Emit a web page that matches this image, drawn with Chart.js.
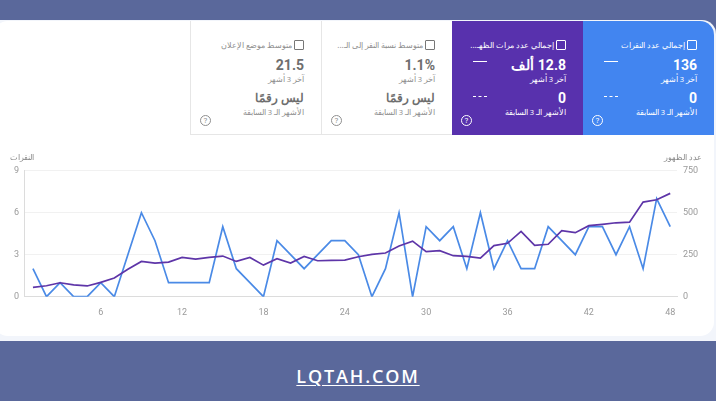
<!DOCTYPE html>
<html lang="ar"><head><meta charset="utf-8">
<script src="https://cdn.jsdelivr.net/npm/chart.js@4"></script>
<style>
html,body{margin:0;padding:0;width:716px;height:401px;overflow:hidden;background:#5a689b;font-family:Roboto,"Noto Sans",sans-serif}
#page{position:absolute;left:0;top:0;width:716px;height:401px;background:#5a689b;filter:blur(0.35px)}
#under{position:absolute;left:0;top:20px;width:716px;height:321px;background:#f2f5fb;border-top-right-radius:14px}
#card{position:absolute;left:-6px;top:21px;width:720px;height:315px;background:#fff;border-radius:14px}
#wrap{position:absolute;left:0;top:150px;width:716px;height:180px}
.p{position:absolute;top:21px;height:114px;box-sizing:border-box;direction:rtl}
.p>*{position:absolute;right:17px;white-space:nowrap}
.box{width:8px;height:8px;border:1px solid #777;border-radius:1px;top:19px;right:17px}
.t{font-size:8px;top:17.5px;right:29px;font-family:"Noto Sans",sans-serif}
.v{font-size:14px;font-weight:700;top:35px;line-height:18px}
.s{font-size:7.5px;top:52.5px;line-height:10px;font-family:"Noto Sans",sans-serif}
.v2{font-size:11.5px;font-weight:700;top:67.5px;line-height:18px;font-family:"Noto Sans",sans-serif}
.v2.n{font-size:14px;font-family:Roboto,sans-serif}
.s2{font-size:7.5px;top:85.5px;line-height:10px;font-family:"Noto Sans",sans-serif}
.g{color:#8f8f8f}.g .v,.g .v2{color:#6e6e6e}
.w{color:#fff}
.q{width:9px;height:9px;border:1px solid currentColor;border-radius:50%;top:94px;font-size:8px;line-height:9px;text-align:center;direction:ltr}
.d1{right:auto;width:14px;height:0;border-top:1px solid #fff;top:40px}
.d2{right:auto;width:14px;height:0;border-top:1px dashed #fff;top:75px}
#foot{position:absolute;left:0;top:365px;width:716px;text-align:center;color:#fff;font:600 18px "Open Sans",sans-serif;letter-spacing:1.85px;text-decoration:underline;text-underline-offset:2px;line-height:22px}
</style></head><body>
<div id="page">
<div id="under"></div>
<div id="card"></div>
<div class="p g" style="left:190px;width:132px;border:1px solid #e6e6e6;border-top:0">
 <div class="box"></div><div class="t">متوسط موضع الإعلان</div><div class="v">21.5</div><div class="s">آخر 3 أشهر</div><div class="v2">ليس رقمًا</div><div class="s2">الأشهر الـ 3 السابقة</div><div class="q" style="right:auto;left:9px">?</div>
</div>
<div class="p g" style="left:322px;width:130px;border-bottom:1px solid #e6e6e6">
 <div class="box"></div><div class="t">متوسط نسبة النقر إلى الـ...</div><div class="v">1.1%</div><div class="s">آخر 3 أشهر</div><div class="v2">ليس رقمًا</div><div class="s2">الأشهر الـ 3 السابقة</div><div class="q" style="right:auto;left:9px">?</div>
</div>
<div class="p w" style="left:452px;width:131px;background:#5831ad">
 <div class="box" style="border-color:#fff"></div><div class="t">إجمالي عدد مرات الظهـ...</div><div class="v">12.8 ألف</div><div class="s">آخر 3 أشهر</div><div class="v2 n">0</div><div class="s2">الأشهر الـ 3 السابقة</div><div class="d1" style="left:21px"></div><div class="d2" style="left:21px"></div><div class="q" style="right:auto;left:9px">?</div>
</div>
<div class="p w" style="left:583px;width:131px;background:#4285f0;border-top-right-radius:14px">
 <div class="box" style="border-color:#fff"></div><div class="t">إجمالي عدد النقرات</div><div class="v">136</div><div class="s">آخر 3 أشهر</div><div class="v2 n">0</div><div class="s2">الأشهر الـ 3 السابقة</div><div class="d1" style="left:21px"></div><div class="d2" style="left:21px"></div><div class="q" style="right:auto;left:9px">?</div>
</div>
<div id="wrap"><canvas id="c" width="716" height="180"></canvas></div>
<div id="foot">LQTAH.COM</div>
</div>
<script>
const positions = Array.from({length:48},(_,i)=>i+1);
const clicks = [2,0,1,0,0,1,0,3,6,4,1,1,1,1,5,2,1,0,4,3,2,3,4,4,3,0,2,6,0,5,4,5,2,6,2,4,2,2,5,4,3,5,5,3,5,2,7,5];
const impressions = [56,65,83,70,64,85,111,163,210,200,206,234,224,234,242,210,234,188,226,200,240,214,216,218,238,252,260,302,331,268,274,244,240,230,304,318,389,306,312,393,381,423,431,440,444,563,577,615];
const xTicks = [6,12,18,24,30,36,42,48];
const leftTicks = [0,3,6,9];
const rightTicks = [0,250,500,750];
const leftTitle = 'النقرات';
const rightTitle = 'عدد الظهور';
const tickFont = {family:'Roboto',size:9};
new Chart(document.getElementById('c'),{
 type:'line',
 data:{datasets:[
  {label:'عدد الظهور',data:positions.map((x,i)=>({x,y:impressions[i]})),yAxisID:'yR',borderColor:'#5e35a8',borderWidth:1.7,pointRadius:0,tension:0},
  {label:'النقرات',data:positions.map((x,i)=>({x,y:clicks[i]})),yAxisID:'yL',borderColor:'#4a8ae6',borderWidth:1.7,pointRadius:0,tension:0}
 ]},
 options:{responsive:false,animation:false,
  layout:{padding:{top:20.7,left:0,right:0,bottom:0}},
  plugins:{legend:{display:false},tooltip:{enabled:false}},
  scales:{
   x:{type:'linear',min:0.34,max:48.5,
      afterBuildTicks:a=>{a.ticks=xTicks.map(value=>({value}))},
      afterFit:a=>{a.height=33.3},
      grid:{display:false,drawTicks:false},border:{color:'#dcdcdc',width:1},
      ticks:{color:'#9a9a9a',font:tickFont,padding:11,maxRotation:0,autoSkip:false}},
   yL:{position:'left',min:0,max:9,
      afterBuildTicks:a=>{a.ticks=leftTicks.map(value=>({value}))},
      grid:{color:'#f1f1f1',drawTicks:false},border:{color:'#dcdcdc'},
      afterFit:a=>{a.width=24},
      ticks:{color:'#9a9a9a',font:tickFont,padding:5}},
   yR:{position:'right',min:0,max:750,
      afterBuildTicks:a=>{a.ticks=rightTicks.map(value=>({value}))},
      grid:{display:false,drawTicks:false},border:{display:false},
      afterFit:a=>{a.width=39},
      ticks:{color:'#9a9a9a',font:tickFont,padding:6}}
  }
 },
 plugins:[{id:'axisTitles',afterDraw(ch){
   const g=ch.ctx;g.save();g.font='7.5px "Noto Sans"';g.fillStyle='#888';g.textBaseline='middle';
   g.textAlign='left';g.fillText(leftTitle,10,8);
   g.textAlign='right';g.fillText(rightTitle,702,8);
   g.restore();
 }}]
});
</script>
</body></html>
